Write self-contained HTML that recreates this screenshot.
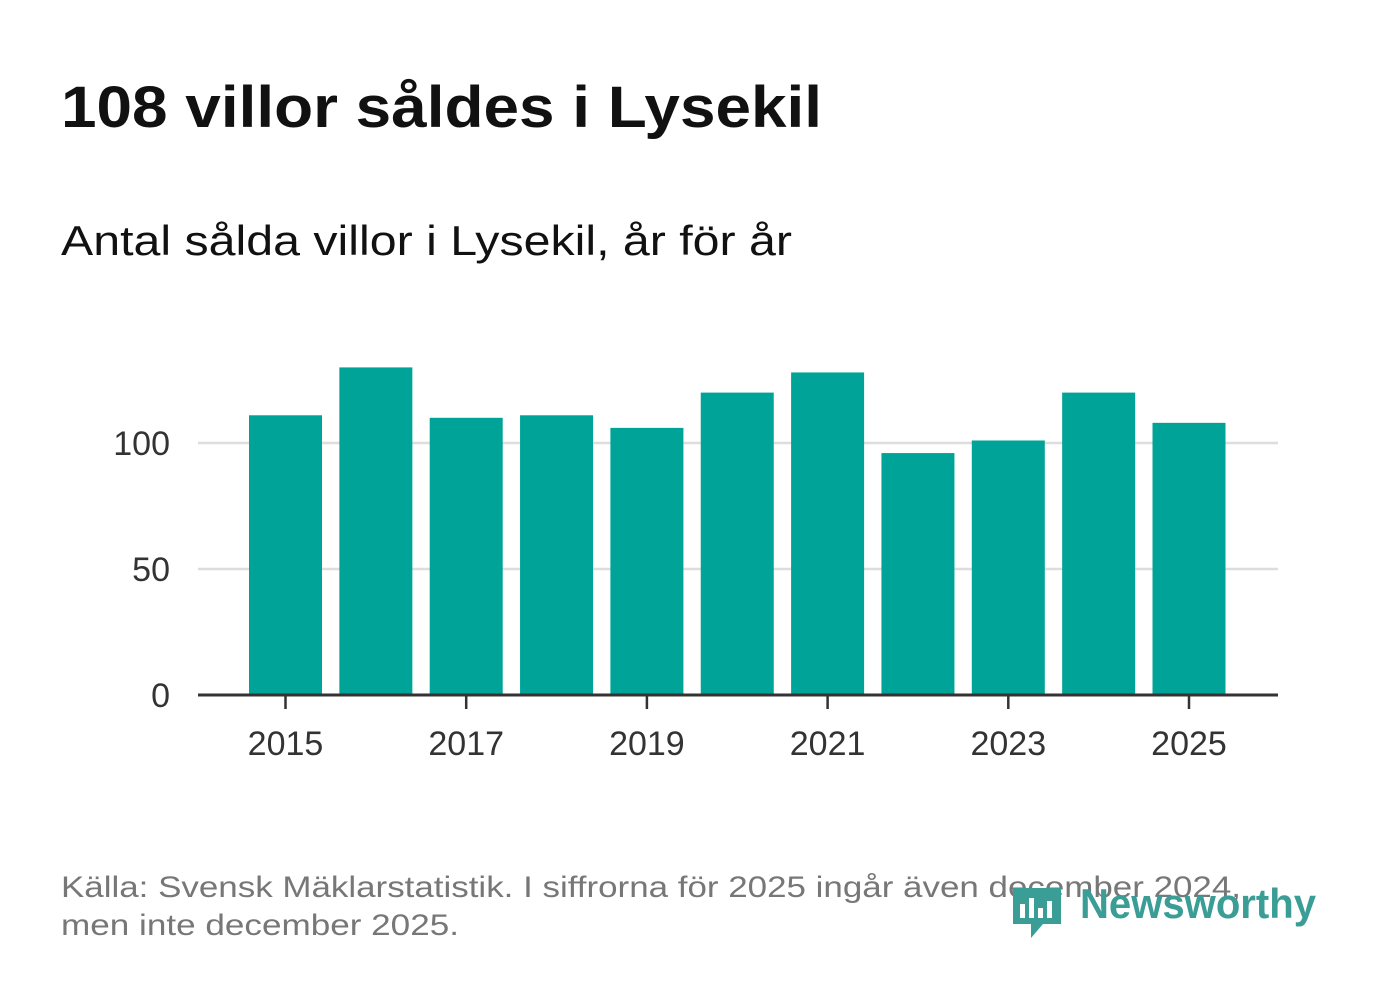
<!DOCTYPE html>
<html><head><meta charset="utf-8"><style>
body{margin:0;background:#fff;width:1382px;height:999px;overflow:hidden;font-family:"Liberation Sans",sans-serif;}
</style></head><body>
<svg width="1382" height="999">
<text x="61" y="127" font-size="58" font-weight="bold" fill="#111" textLength="761" lengthAdjust="spacingAndGlyphs">108 villor såldes i Lysekil</text>
<text x="61" y="255" font-size="42" fill="#111" textLength="731" lengthAdjust="spacingAndGlyphs">Antal sålda villor i Lysekil, år för år</text>
<g id="grid"></g><g id="bars"></g><g id="axis"></g>
<text x="61" y="897" font-size="30" fill="#777" textLength="1180" lengthAdjust="spacingAndGlyphs">Källa: Svensk Mäklarstatistik. I siffrorna för 2025 ingår även december 2024,</text>
<text x="61" y="935" font-size="30" fill="#777" textLength="398" lengthAdjust="spacingAndGlyphs">men inte december 2025.</text>
<g>
<path d="M1013 888 h48 v36 h-18 l-12 14 v-14 h-18 z" fill="#3a9d96"/>
<rect x="1020" y="904" width="5" height="14" fill="#fff"/><rect x="1029" y="898" width="5" height="20" fill="#fff"/><rect x="1038" y="908" width="5" height="10" fill="#fff"/><rect x="1047" y="901" width="5" height="17" fill="#fff"/>
<text x="1080" y="918" font-size="42" font-weight="bold" fill="#3a9d96" textLength="236" lengthAdjust="spacingAndGlyphs">Newsworthy</text>
</g>
</svg>
<script>
const years=[2015,2016,2017,2018,2019,2020,2021,2022,2023,2024,2025];
const values=[111,130,110,111,106,120,128,96,101,120,108];
const yTicks=[0,50,100];
const xLabels=[2015,2017,2019,2021,2023,2025];
const NS="http://www.w3.org/2000/svg";
const y=v=>695-v*2.52;
const x=yr=>285.5+(yr-2015)*90.35;
function mk(t,a,p){const e=document.createElementNS(NS,t);for(const k in a)e.setAttribute(k,a[k]);p.appendChild(e);return e;}
const g=document.getElementById('grid'),b=document.getElementById('bars'),ax=document.getElementById('axis');
yTicks.forEach(v=>{
 if(v>0){const l=mk('line',{x1:198,x2:1278,y1:y(v),y2:y(v),stroke:'#ddd','stroke-width':2.5},g);
 
 }
 const t=mk('text',{x:170,y:y(v)+12,'font-size':34,fill:'#333','text-anchor':'end'},ax);t.textContent=v;
 
 
});
years.forEach((yr,i)=>{
 const r=mk('rect',{x:x(yr)-36.5,y:y(values[i]),width:73,height:695-y(values[i]),fill:'#00a398'},b);
 
 
});
const al=mk('line',{x1:198,x2:1278,y1:695,y2:695,stroke:'#333','stroke-width':3},ax);


xLabels.forEach(yr=>{
 mk('line',{x1:x(yr),x2:x(yr),y1:695,y2:709,stroke:'#333','stroke-width':2.5},ax);
 const t=mk('text',{x:x(yr),y:755,'font-size':34,fill:'#333','text-anchor':'middle'},ax);t.textContent=yr;
 
 
});
</script>
</body></html>
